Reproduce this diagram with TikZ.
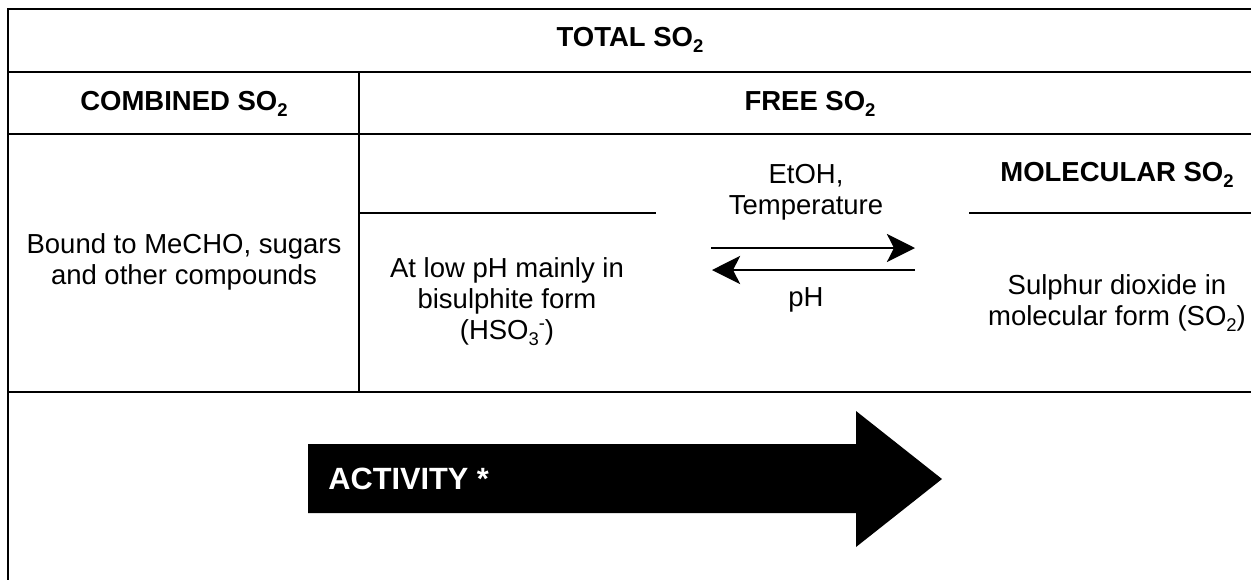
\documentclass[tikz,border=0pt]{standalone}
\usepackage{fontspec}
\setmainfont{Liberation Sans}
\usetikzlibrary{arrows.meta}
\newcommand\mysub[1]{\raisebox{-0.22em}{\fontsize{10.5}{10.5}\selectfont #1}}
\newcommand\mysup[1]{\raisebox{0.38em}{\fontsize{10.5}{10.5}\selectfont #1}}
\begin{document}
\begin{tikzpicture}[x=0.02cm,y=-0.02cm,
  rule/.style={line width=1.1pt,line cap=rect},
  lbl/.style={align=center,inner sep=0pt,font=\fontsize{15.65}{17.6}\selectfont},
  hdr/.style={align=center,inner sep=0pt,font=\fontsize{15.65}{17.6}\selectfont\bfseries},
  eqarrow/.style={line width=1.1pt,-{Stealth[length=16pt,width=16pt,inset=4pt]}}]
\useasboundingbox (0,0) rectangle (1251,579);

% table rules
\draw[rule] (8,579) -- (8,9) -- (1260,9);
\draw[rule] (8,72) -- (1260,72);
\draw[rule] (8,134) -- (1260,134);
\draw[rule] (359,72) -- (359,392);
\draw[rule] (359,213) -- (655,213);
\draw[rule] (970,213) -- (1260,213);
\draw[rule] (8,392) -- (1260,392);

% headers
\node[hdr] (total) at (630,40) {TOTAL SO\mysub{2}};
\node[hdr] (combined) at (184,104) {COMBINED SO\mysub{2}};
\node[hdr] (free) at (810,104) {FREE SO\mysub{2}};
\node[hdr] (molecular) at (1117,175) {MOLECULAR SO\mysub{2}};

% body texts
\node[lbl] (bound) at (184,262) {Bound to MeCHO, sugars\\and other compounds};
\node[lbl] (lowph) at (507,302) {At low pH mainly in\\bisulphite form\\(HSO\mysub{3}\mysup{-})};
\node[lbl] (sulphur) at (1117,303) {Sulphur dioxide in\\molecular form (SO\mysub{2})};
\node[lbl] (cond) at (806,192) {EtOH,\\Temperature};
\node[lbl] (ph) at (806,300) {pH};

% equilibrium arrows
\coordinate (fwdA) at (711,248);
\coordinate (fwdB) at (915,248);
\coordinate (revA) at (915,270);
\coordinate (revB) at (712,270);
\draw[eqarrow] (fwdA) -- (fwdB);
\draw[eqarrow] (revA) -- (revB);

% big activity arrow
\fill[black] (308,444) -- (856,444) -- (856,411) -- (942,479) -- (856,547) -- (856,513) -- (308,513) -- cycle;
\node[anchor=west,inner sep=0pt,text=white,font=\fontsize{17.5}{19}\selectfont\bfseries] (activity) at (328,479) {ACTIVITY *};
\end{tikzpicture}
\end{document}
